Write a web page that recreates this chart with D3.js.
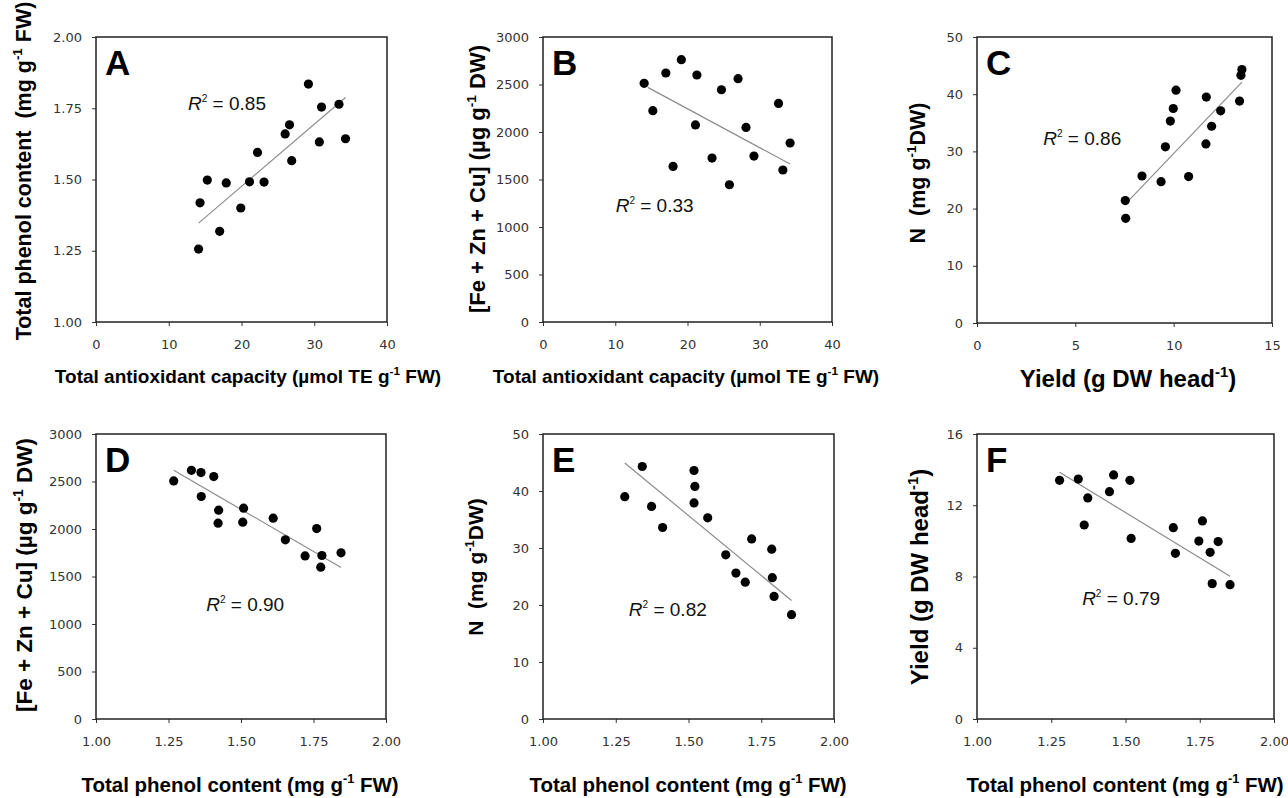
<!DOCTYPE html>
<html>
<head>
<meta charset="utf-8">
<script src="https://cdn.jsdelivr.net/npm/d3@7"></script>
<style>
  body { margin: 0; background: #fff; }
  svg { display: block; }
  text { white-space: pre; }
</style>
</head>
<body>
<div id="my_dataviz"></div>
<script>
// ---- data ----
var panelLetters = ["A", "B", "C", "D", "E", "F"];
var r2Values = ["0.85", "0.33", "0.86", "0.90", "0.82", "0.79"];

// A: total antioxidant capacity vs total phenol content
var aX = [29.2, 31.0, 33.4, 26.6, 26.0, 30.7, 34.3, 22.2, 26.9, 15.3, 17.9, 21.1, 23.1, 14.3, 19.9, 17.0, 14.1];
var aY = [1.835, 1.754, 1.764, 1.692, 1.660, 1.632, 1.643, 1.595, 1.566, 1.498, 1.488, 1.492, 1.491, 1.418, 1.400, 1.318, 1.256];
var aTrend = [[14.1, 1.347], [34.3, 1.788]];

// B: total antioxidant capacity vs [Fe + Zn + Cu]
var bX = [19.15, 17.0, 21.3, 14.0, 27.0, 24.7, 32.6, 15.2, 21.1, 28.1, 34.2, 23.4, 29.2, 18.0, 33.2, 25.8];
var bY = [2761, 2621, 2600, 2512, 2561, 2445, 2301, 2224, 2074, 2048, 1884, 1726, 1747, 1638, 1600, 1445];
var bTrend = [[14.5, 2470], [34.2, 1663]];

// C: yield vs N
var cX = [13.47, 13.42, 13.35, 10.12, 11.66, 9.98, 12.39, 9.83, 11.93, 9.58, 11.64, 8.39, 9.36, 10.76, 7.54, 7.56];
var cY = [44.3, 43.3, 38.8, 40.7, 39.5, 37.5, 37.1, 35.3, 34.4, 30.8, 31.3, 25.7, 24.7, 25.6, 21.4, 18.3];
var cTrend = [[7.71, 21.4], [13.47, 42.1]];

// D: total phenol content vs [Fe + Zn + Cu]
var dX = [1.329, 1.362, 1.406, 1.268, 1.363, 1.423, 1.421, 1.509, 1.506, 1.611, 1.653, 1.761, 1.721, 1.779, 1.775, 1.845];
var dY = [2618, 2594, 2552, 2506, 2342, 2198, 2061, 2219, 2072, 2114, 1886, 2005, 1717, 1721, 1598, 1749];
var dTrend = [[1.268, 2618], [1.845, 1595]];

// E: total phenol content vs N
var eX = [1.341, 1.519, 1.522, 1.281, 1.519, 1.373, 1.566, 1.411, 1.717, 1.786, 1.628, 1.663, 1.695, 1.788, 1.794, 1.854];
var eY = [44.3, 43.6, 40.8, 39.0, 37.9, 37.3, 35.3, 33.6, 31.6, 29.8, 28.8, 25.6, 24.0, 24.8, 21.5, 18.3];
var eTrend = [[1.281, 44.9], [1.854, 20.8]];

// F: total phenol content vs yield
var fX = [1.278, 1.341, 1.460, 1.515, 1.446, 1.373, 1.361, 1.519, 1.661, 1.759, 1.747, 1.812, 1.668, 1.785, 1.792, 1.852];
var fY = [13.40, 13.47, 13.70, 13.40, 12.76, 12.41, 10.89, 10.14, 10.74, 11.12, 9.99, 9.96, 9.30, 9.36, 7.60, 7.54];
var fTrend = [[1.278, 13.85], [1.852, 8.01]];

// tick values
var ticksCapacity = [0, 10, 20, 30, 40];
var ticksPhenolY = [1.00, 1.25, 1.50, 1.75, 2.00];
var ticksMetal = [0, 500, 1000, 1500, 2000, 2500, 3000];
var ticksYieldX = [0, 5, 10, 15];
var ticksN = [0, 10, 20, 30, 40, 50];
var ticksPhenolX = [1.00, 1.25, 1.50, 1.75, 2.00];
var ticksYieldY = [0, 4, 8, 12, 16];

// where the R² annotation sits, in data units
var r2Pos = [[12.65, 1.745], [10.06, 1161], [3.37, 31.1], [1.380, 1136], [1.295, 18.1], [1.354, 6.42]];

// axis titles: plain strings with superscript pieces in arrays
var labCapacity = ["Total antioxidant capacity (\u00b5mol TE g", ["-1"], " FW)"];
var labPhenol = ["Total phenol content  (mg g", ["-1"], " FW)"];
var labPhenolX = ["Total phenol content (mg g", ["-1"], " FW)"];
var labMetal = ["[Fe + Zn + Cu] (\u00b5g g", ["-1"], " DW)"];
var labN = ["N  (mg g", ["-1"], "DW)"];
var labYield = ["Yield (g DW head", ["-1"], ")"];

// ---- layout ----
var W = 1288, H = 798;
var svg = d3.select("#my_dataviz")
  .append("svg")
    .attr("width", W)
    .attr("height", H);

var panels = [
  {frame: [96, 37, 387, 322], xs: aX, ys: aY, trend: aTrend, xd: [0, 40], yd: [1, 2],
   xt: ticksCapacity, yt: ticksPhenolY, xf: d3.format("d"), yf: d3.format(".2f"),
   xl: labCapacity, xlPos: [248, 383], xlSize: 19,
   yl: labPhenol, ylPos: [31, 171], ylSize: 21.5},
  {frame: [543, 37, 832, 322], xs: bX, ys: bY, trend: bTrend, xd: [0, 40], yd: [0, 3000],
   xt: ticksCapacity, yt: ticksMetal, xf: d3.format("d"), yf: d3.format("d"),
   xl: labCapacity, xlPos: [686, 383], xlSize: 19,
   yl: labMetal, ylPos: [485, 179], ylSize: 22},
  {frame: [977, 37, 1272, 323], xs: cX, ys: cY, trend: cTrend, xd: [0, 15], yd: [0, 50],
   xt: ticksYieldX, yt: ticksN, xf: d3.format("d"), yf: d3.format("d"),
   xl: labYield, xlPos: [1128, 387], xlSize: 24,
   yl: labN, ylPos: [925, 173], ylSize: 21.5},
  {frame: [96, 434, 386, 719], xs: dX, ys: dY, trend: dTrend, xd: [1, 2], yd: [0, 3000],
   xt: ticksPhenolX, yt: ticksMetal, xf: d3.format(".2f"), yf: d3.format("d"),
   xl: labPhenolX, xlPos: [240, 792], xlSize: 20.5,
   yl: labMetal, ylPos: [32, 575], ylSize: 22.5},
  {frame: [543, 434, 834, 719], xs: eX, ys: eY, trend: eTrend, xd: [1, 2], yd: [0, 50],
   xt: ticksPhenolX, yt: ticksN, xf: d3.format(".2f"), yf: d3.format("d"),
   xl: labPhenolX, xlPos: [688, 792], xlSize: 20.5,
   yl: labN, ylPos: [483, 567], ylSize: 21},
  {frame: [977, 434, 1274, 719], xs: fX, ys: fY, trend: fTrend, xd: [1, 2], yd: [0, 16],
   xt: ticksPhenolX, yt: ticksYieldY, xf: d3.format(".2f"), yf: d3.format("d"),
   xl: labPhenolX, xlPos: [1125, 792], xlSize: 20.5,
   yl: labYield, ylPos: [928, 577], ylSize: 24}
];

// write a label made of plain and superscript pieces
function addPieces(text, pieces, size) {
  pieces.forEach(function(p) {
    if (Array.isArray(p)) {
      text.append("tspan")
        .attr("dy", -size * 0.42)
        .style("font-size", (size * 0.62) + "px")
        .text(p[0]);
    } else {
      var t = text.append("tspan").text(p);
      if (text.node().childNodes.length > 1) t.attr("dy", size * 0.42);
    }
  });
}

panels.forEach(function(p, i) {
  var f = p.frame;
  var x = d3.scaleLinear().domain(p.xd).range([f[0], f[2]]);
  var y = d3.scaleLinear().domain(p.yd).range([f[3], f[1]]);
  var g = svg.append("g");

  // axes
  var xAxis = g.append("g")
    .attr("transform", "translate(0," + f[3] + ")")
    .call(d3.axisBottom(x).tickValues(p.xt).tickFormat(p.xf).tickSize(4).tickPadding(14));
  var yAxis = g.append("g")
    .attr("transform", "translate(" + f[0] + ",0)")
    .call(d3.axisLeft(y).tickValues(p.yt).tickFormat(p.yf).tickSize(4).tickPadding(10));
  [xAxis, yAxis].forEach(function(a) {
    a.select(".domain").remove();
    a.selectAll("line").attr("stroke", "#333");
    a.selectAll("text")
      .attr("fill", "#333")
      .style("font-family", "'DejaVu Sans', Verdana, sans-serif")
      .style("font-size", "13px");
  });

  // frame
  g.append("rect")
    .attr("x", f[0]).attr("y", f[1])
    .attr("width", f[2] - f[0]).attr("height", f[3] - f[1])
    .attr("fill", "none")
    .attr("stroke", "#222")
    .attr("stroke-width", 1.5);

  // trend line
  g.append("path")
    .datum(p.trend)
    .attr("fill", "none")
    .attr("stroke", "#8c8c8c")
    .attr("stroke-width", 1.2)
    .attr("d", d3.line()
      .x(function(d) { return x(d[0]); })
      .y(function(d) { return y(d[1]); }));

  // points
  g.append("g")
    .selectAll("circle")
    .data(d3.zip(p.xs, p.ys))
    .enter()
    .append("circle")
      .attr("cx", function(d) { return x(d[0]); })
      .attr("cy", function(d) { return y(d[1]); })
      .attr("r", 4.6)
      .attr("fill", "#000");

  // panel letter
  g.append("text")
    .attr("x", f[0] + 9)
    .attr("y", f[1] + 38)
    .style("font-family", "'Liberation Sans', Arial, sans-serif")
    .style("font-weight", "bold")
    .style("font-size", "35px")
    .text(panelLetters[i]);

  // R² note
  var r2 = g.append("text")
    .attr("x", x(r2Pos[i][0]))
    .attr("y", y(r2Pos[i][1]))
    .style("font-family", "'Liberation Sans', Arial, sans-serif")
    .style("font-size", "19px")
    .attr("fill", "#111");
  r2.append("tspan").style("font-style", "italic").text("R");
  r2.append("tspan").attr("dy", -8).style("font-size", "10px").text("2");
  r2.append("tspan").attr("dy", 8).text(" = " + r2Values[i]);

  // axis titles
  var xt = g.append("text")
    .attr("x", p.xlPos[0])
    .attr("y", p.xlPos[1])
    .attr("text-anchor", "middle")
    .style("font-family", "'Liberation Sans', Arial, sans-serif")
    .style("font-weight", "bold")
    .style("font-size", p.xlSize + "px");
  addPieces(xt, p.xl, p.xlSize);

  var yt = g.append("text")
    .attr("transform", "translate(" + p.ylPos[0] + "," + p.ylPos[1] + ") rotate(-90)")
    .attr("text-anchor", "middle")
    .style("font-family", "'Liberation Sans', Arial, sans-serif")
    .style("font-weight", "bold")
    .style("font-size", p.ylSize + "px");
  addPieces(yt, p.yl, p.ylSize);
});
</script>
</body>
</html>
